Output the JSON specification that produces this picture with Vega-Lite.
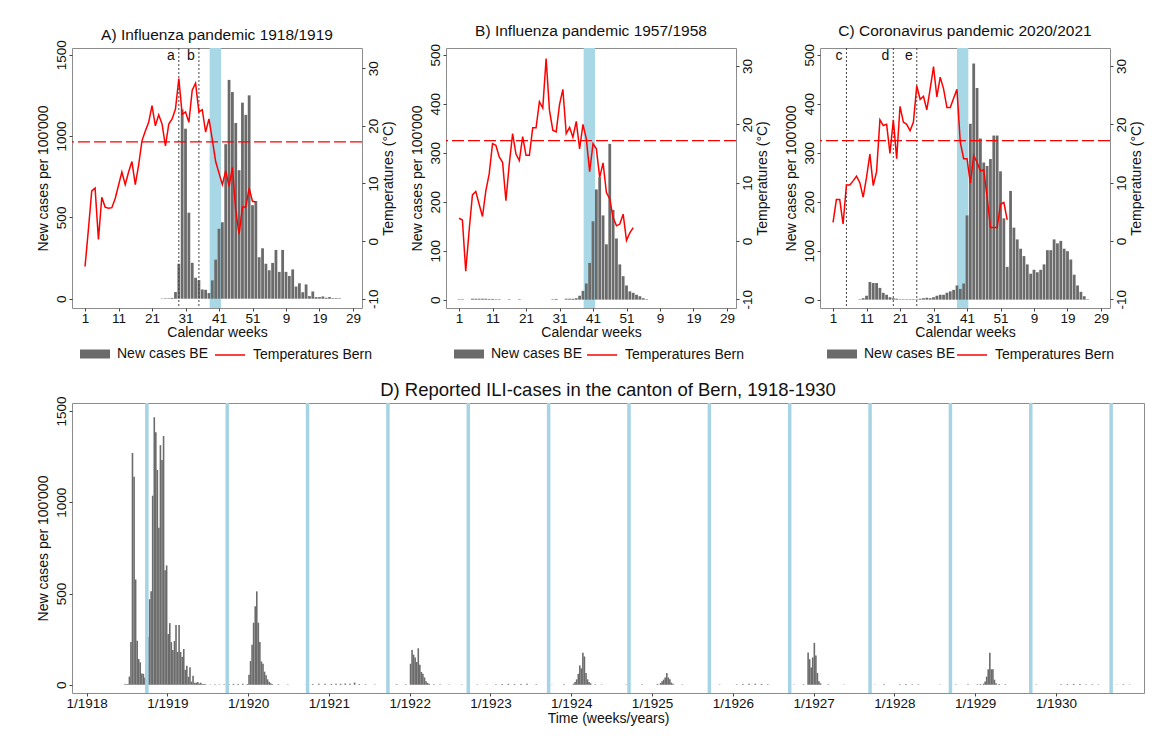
{
"$schema": "https://vega.github.io/schema/vega-lite/v6.json",
"background": "white",
"padding": {"left": 35, "top": 23, "right": 5, "bottom": 5},
"autosize": {"type": "pad"},
"config": {
  "font": "Liberation Sans",
  "view": {"stroke": "#8c8c8c", "strokeWidth": 1},
  "axis": {"labelFontSize": 13.5, "titleFontSize": 14, "labelColor": "#111", "titleColor": "#111", "tickColor": "#444", "tickSize": 3, "domain": false, "grid": false, "titleFontWeight": "normal", "labelPadding": 1, "titlePadding": 4, "labelOverlap": false},
  "axisX": {"labelOverlap": false, "titlePadding": 1, "labelPadding": 0},
  "axisQuantitative": {"labelOverlap": false},
  "title": {"fontSize": 15.5, "fontWeight": "normal", "offset": 0, "color": "#111"},
  "legend": {"labelFontSize": 14, "labelColor": "#111", "orient": "none", "direction": "horizontal", "title": null, "labelOffset": 7}
},
"datasets": {
  "A": [
    {"week":1,"temp":-4.4},{"week":2,"temp":2.0},{"week":3,"temp":8.7},{"week":4,"temp":9.2},{"week":5,"temp":0.3},{"week":6,"temp":7.6},{"week":7,"temp":5.9},{"week":8,"temp":5.7},{"week":9,"temp":5.8},{"week":10,"temp":7.4},
    {"week":11,"temp":9.7},{"week":12,"temp":12.0},{"week":13,"temp":9.8},{"week":14,"temp":12.0},{"week":15,"temp":13.8},{"week":16,"temp":9.8},{"week":17,"temp":13.2},{"week":18,"temp":17.4},{"week":19,"temp":19.1},{"week":20,"temp":20.6},
    {"week":21,"temp":23.5},{"week":22,"temp":20.0},{"week":23,"temp":21.9},{"week":24,"temp":20.3,"cases":2},{"week":25,"temp":16.5,"cases":3},{"week":26,"temp":20.3,"cases":3},{"week":27,"temp":21.2,"cases":5},{"week":28,"temp":22.9,"cases":41},{"week":29,"temp":28.2,"cases":215},{"week":30,"temp":22.0,"cases":1164},
    {"week":31,"temp":22.4,"cases":1045},{"week":32,"temp":20.6,"cases":529},{"week":33,"temp":26.2,"cases":221},{"week":34,"temp":27.4,"cases":129},{"week":35,"temp":22.4,"cases":113},{"week":36,"temp":22.8,"cases":57},{"week":37,"temp":18.9,"cases":55},{"week":38,"temp":21.2,"cases":35},{"week":39,"temp":17.6,"cases":113},{"week":40,"temp":13.8,"cases":240},
    {"week":41,"temp":11.8,"cases":430},{"week":42,"temp":9.8,"cases":470},{"week":43,"temp":12.2,"cases":950},{"week":44,"temp":9.5,"cases":1345},{"week":45,"temp":12.8,"cases":1270},{"week":46,"temp":5.3,"cases":1080},{"week":47,"temp":1.2,"cases":790},{"week":48,"temp":5.9,"cases":1205},{"week":49,"temp":5.9,"cases":1130},{"week":50,"temp":9.2,"cases":1250},
    {"week":51,"temp":6.9,"cases":575},{"week":52,"temp":6.8,"cases":600},{"week":53,"cases":255},{"week":54,"cases":310},{"week":55,"cases":215},{"week":56,"cases":175},{"week":57,"cases":220},{"week":58,"cases":300},{"week":59,"cases":165},{"week":60,"cases":300},
    {"week":61,"cases":165},{"week":62,"cases":140},{"week":63,"cases":180},{"week":64,"cases":75},{"week":65,"cases":95},{"week":66,"cases":40},{"week":67,"cases":88},{"week":68,"cases":16},{"week":69,"cases":45},{"week":70,"cases":10},
    {"week":71,"cases":10},{"week":72,"cases":14},{"week":73,"cases":6},{"week":74,"cases":10},{"week":75,"cases":4},{"week":76,"cases":4},{"week":77,"cases":3}
  ],
  "B": [
    {"week":1,"temp":3.9,"cases":1},{"week":2,"temp":3.6,"cases":1},{"week":3,"temp":-5.2},{"week":4,"temp":1.7},{"week":5,"temp":7.9,"cases":2},{"week":6,"temp":8.5,"cases":2},{"week":7,"temp":6.3,"cases":2},{"week":8,"temp":4.2,"cases":2},{"week":9,"temp":8.6,"cases":2},{"week":10,"temp":11.5,"cases":1.5},
    {"week":11,"temp":16.7,"cases":1.5},{"week":12,"temp":16.4,"cases":1},{"week":13,"temp":14.4,"cases":1},{"week":14,"temp":13.5},{"week":15,"temp":6.9},{"week":16,"temp":13.2,"cases":1},{"week":17,"temp":18.4},{"week":18,"temp":14.9},{"week":19,"temp":13.8,"cases":1},{"week":20,"temp":17.9},
    {"week":21,"temp":14.7},{"week":22,"temp":14.7},{"week":23,"temp":19.4},{"week":24,"temp":19.4},{"week":25,"temp":23.9},{"week":26,"temp":22.8},{"week":27,"temp":31.3},{"week":28,"temp":22.4},{"week":29,"temp":19.0,"cases":1},{"week":30,"temp":18.7,"cases":1.5},
    {"week":31,"temp":23.4},{"week":32,"temp":26.0},{"week":33,"temp":18.4,"cases":2},{"week":34,"temp":19.5,"cases":2},{"week":35,"temp":17.8,"cases":2},{"week":36,"temp":20.5,"cases":3},{"week":37,"temp":15.8,"cases":8},{"week":38,"temp":20.0,"cases":18},{"week":39,"temp":17.5,"cases":33},{"week":40,"temp":11.9,"cases":75},
    {"week":41,"temp":16.7,"cases":160},{"week":42,"temp":15.8,"cases":225},{"week":43,"temp":10.9,"cases":250},{"week":44,"temp":13.4,"cases":172},{"week":45,"temp":8.3,"cases":113},{"week":46,"temp":7.2,"cases":318},{"week":47,"temp":4.0,"cases":183},{"week":48,"temp":2.6,"cases":125},{"week":49,"temp":2.9,"cases":72},{"week":50,"temp":4.6,"cases":48},
    {"week":51,"temp":0.1,"cases":29},{"week":52,"temp":1.4,"cases":17},{"week":53,"temp":2.3,"cases":14},{"week":54,"cases":10},{"week":55,"cases":7},{"week":56,"cases":3},{"week":57,"cases":1}
  ],
  "C": [
    {"week":1,"temp":3.2},{"week":2,"temp":7.1},{"week":3,"temp":7.1},{"week":4,"temp":2.9},{"week":5,"temp":9.6},{"week":6,"temp":9.6},{"week":7,"temp":10.3},{"week":8,"temp":11.1},{"week":9,"temp":10.0,"cases":1},{"week":10,"temp":7.5,"cases":3},
    {"week":11,"temp":10.9,"cases":8},{"week":12,"temp":14.9,"cases":36},{"week":13,"temp":9.5,"cases":34},{"week":14,"temp":11.9,"cases":34},{"week":15,"temp":20.8,"cases":24},{"week":16,"temp":19.8,"cases":14},{"week":17,"temp":20.0,"cases":10},{"week":18,"temp":15.0,"cases":5},{"week":19,"temp":20.8,"cases":3},{"week":20,"temp":14.1,"cases":2},
    {"week":21,"temp":23.1,"cases":1},{"week":22,"temp":20.4,"cases":1},{"week":23,"temp":20.0,"cases":1},{"week":24,"temp":18.9,"cases":1},{"week":25,"temp":20.4,"cases":1},{"week":26,"temp":26.6,"cases":1},{"week":27,"temp":24.3,"cases":2},{"week":28,"temp":24.8,"cases":3},{"week":29,"temp":22.5,"cases":4},{"week":30,"temp":26.1,"cases":3},
    {"week":31,"temp":29.9,"cases":5},{"week":32,"temp":24.7,"cases":8},{"week":33,"temp":28.1,"cases":10},{"week":34,"temp":26.1,"cases":10},{"week":35,"temp":22.9,"cases":14},{"week":36,"temp":22.9,"cases":17},{"week":37,"temp":24.5,"cases":20},{"week":38,"temp":26.0,"cases":29},{"week":39,"temp":16.9,"cases":22},{"week":40,"temp":14.1,"cases":33},
    {"week":41,"temp":14.1,"cases":172},{"week":42,"temp":9.9,"cases":359},{"week":43,"temp":14.6,"cases":482},{"week":44,"temp":13.5,"cases":432},{"week":45,"temp":12.0,"cases":329},{"week":46,"temp":12.2,"cases":280},{"week":47,"temp":7.5,"cases":273},{"week":48,"temp":2.3,"cases":287},{"week":49,"temp":2.3,"cases":335},{"week":50,"temp":2.3,"cases":335},
    {"week":51,"temp":6.3,"cases":262},{"week":52,"temp":6.6,"cases":166},{"week":53,"temp":3.6,"cases":67},{"week":54,"cases":222},{"week":55,"cases":147},{"week":56,"cases":123},{"week":57,"cases":104},{"week":58,"cases":89},{"week":59,"cases":72},{"week":60,"cases":53},
    {"week":61,"cases":61},{"week":62,"cases":56},{"week":63,"cases":61},{"week":64,"cases":72},{"week":65,"cases":101},{"week":66,"cases":101},{"week":67,"cases":123},{"week":68,"cases":115},{"week":69,"cases":120},{"week":70,"cases":104},
    {"week":71,"cases":99},{"week":72,"cases":82},{"week":73,"cases":51},{"week":74,"cases":29},{"week":75,"cases":16},{"week":76,"cases":7},{"week":77,"cases":1}
  ],
  "D": [
    {"t":1918.471,"cases":3},{"t":1918.490,"cases":3},{"t":1918.510,"cases":4},{"t":1918.529,"cases":45},{"t":1918.548,"cases":234},{"t":1918.567,"cases":1270},{"t":1918.587,"cases":1140},{"t":1918.606,"cases":577},{"t":1918.625,"cases":241},{"t":1918.644,"cases":141},
    {"t":1918.663,"cases":123},{"t":1918.683,"cases":62},{"t":1918.702,"cases":60},{"t":1918.721,"cases":38},{"t":1918.740,"cases":123},{"t":1918.760,"cases":262},{"t":1918.779,"cases":469},{"t":1918.798,"cases":512},{"t":1918.817,"cases":1036},{"t":1918.837,"cases":1466},
    {"t":1918.856,"cases":1384},{"t":1918.875,"cases":1177},{"t":1918.894,"cases":861},{"t":1918.913,"cases":1313},{"t":1918.933,"cases":1232},{"t":1918.952,"cases":1363},{"t":1918.971,"cases":627},{"t":1918.990,"cases":654},
    {"t":1919.010,"cases":278},{"t":1919.029,"cases":338},{"t":1919.048,"cases":234},{"t":1919.067,"cases":191},{"t":1919.087,"cases":240},{"t":1919.106,"cases":327},{"t":1919.125,"cases":180},{"t":1919.144,"cases":327},{"t":1919.163,"cases":180},{"t":1919.183,"cases":153},
    {"t":1919.202,"cases":196},{"t":1919.221,"cases":82},{"t":1919.240,"cases":104},{"t":1919.260,"cases":44},{"t":1919.279,"cases":96},{"t":1919.298,"cases":17},{"t":1919.317,"cases":49},{"t":1919.337,"cases":11},{"t":1919.356,"cases":11},{"t":1919.375,"cases":15},
    {"t":1919.394,"cases":7},{"t":1919.413,"cases":11},{"t":1919.433,"cases":4},{"t":1919.452,"cases":4},{"t":1919.471,"cases":3},{"t":1919.529,"cases":2},{"t":1919.587,"cases":3},{"t":1919.644,"cases":2},{"t":1919.702,"cases":3},{"t":1919.760,"cases":4},
    {"t":1919.817,"cases":5},{"t":1919.875,"cases":4},{"t":1919.933,"cases":5},{"t":1919.990,"cases":4},
    {"t":1920.010,"cases":55},{"t":1920.029,"cases":130},{"t":1920.048,"cases":220},{"t":1920.067,"cases":340},{"t":1920.087,"cases":430},{"t":1920.106,"cases":512},{"t":1920.125,"cases":340},{"t":1920.144,"cases":235},{"t":1920.163,"cases":128},{"t":1920.183,"cases":115},
    {"t":1920.202,"cases":72},{"t":1920.221,"cases":52},{"t":1920.240,"cases":30},{"t":1920.260,"cases":16},{"t":1920.279,"cases":8},{"t":1920.298,"cases":4},{"t":1920.375,"cases":3},{"t":1920.490,"cases":2},{"t":1920.721,"cases":3},{"t":1920.798,"cases":4},
    {"t":1920.875,"cases":5},{"t":1920.952,"cases":6},
    {"t":1921.029,"cases":5},{"t":1921.087,"cases":6},{"t":1921.144,"cases":6},{"t":1921.202,"cases":7},{"t":1921.260,"cases":6},{"t":1921.317,"cases":12},{"t":1921.375,"cases":4},{"t":1921.452,"cases":3},{"t":1921.567,"cases":2},{"t":1921.721,"cases":2},
    {"t":1921.837,"cases":3},{"t":1921.952,"cases":3},
    {"t":1922.010,"cases":115},{"t":1922.029,"cases":190},{"t":1922.048,"cases":165},{"t":1922.067,"cases":150},{"t":1922.087,"cases":125},{"t":1922.106,"cases":200},{"t":1922.125,"cases":110},{"t":1922.144,"cases":70},{"t":1922.163,"cases":60},{"t":1922.183,"cases":40},
    {"t":1922.202,"cases":20},{"t":1922.221,"cases":10},{"t":1922.240,"cases":5},{"t":1922.298,"cases":3},{"t":1922.375,"cases":3},{"t":1922.490,"cases":2},{"t":1922.644,"cases":2},{"t":1922.837,"cases":2},{"t":1922.952,"cases":2},
    {"t":1923.067,"cases":3},{"t":1923.144,"cases":4},{"t":1923.221,"cases":5},{"t":1923.298,"cases":4},{"t":1923.375,"cases":4},{"t":1923.452,"cases":5},{"t":1923.567,"cases":3},{"t":1923.760,"cases":2},{"t":1923.913,"cases":3},
    {"t":1924.029,"cases":6},{"t":1924.048,"cases":15},{"t":1924.067,"cases":30},{"t":1924.087,"cases":60},{"t":1924.106,"cases":105},{"t":1924.125,"cases":90},{"t":1924.144,"cases":175},{"t":1924.163,"cases":155},{"t":1924.183,"cases":65},{"t":1924.202,"cases":30},
    {"t":1924.221,"cases":15},{"t":1924.240,"cases":8},{"t":1924.298,"cases":3},{"t":1924.375,"cases":2},{"t":1924.683,"cases":2},{"t":1924.875,"cases":3},
    {"t":1925.067,"cases":5},{"t":1925.106,"cases":10},{"t":1925.125,"cases":20},{"t":1925.144,"cases":28},{"t":1925.163,"cases":40},{"t":1925.183,"cases":64},{"t":1925.202,"cases":40},{"t":1925.221,"cases":30},{"t":1925.240,"cases":12},{"t":1925.260,"cases":6},
    {"t":1925.375,"cases":2},{"t":1925.837,"cases":2},
    {"t":1926.048,"cases":3},{"t":1926.125,"cases":4},{"t":1926.202,"cases":5},{"t":1926.279,"cases":6},{"t":1926.356,"cases":5},{"t":1926.433,"cases":3},{"t":1926.760,"cases":2},{"t":1926.875,"cases":3},{"t":1926.933,"cases":177},{"t":1926.952,"cases":140},
    {"t":1926.971,"cases":95},{"t":1926.990,"cases":150},
    {"t":1927.010,"cases":230},{"t":1927.029,"cases":160},{"t":1927.048,"cases":65},{"t":1927.067,"cases":20},{"t":1927.087,"cases":8},{"t":1927.183,"cases":3},{"t":1927.375,"cases":2},{"t":1927.760,"cases":2},{"t":1927.875,"cases":3},
    {"t":1928.067,"cases":3},{"t":1928.144,"cases":4},{"t":1928.221,"cases":3},{"t":1928.298,"cases":3},{"t":1928.567,"cases":2},{"t":1928.760,"cases":2},{"t":1928.913,"cases":3},
    {"t":1929.029,"cases":3},{"t":1929.067,"cases":4},{"t":1929.106,"cases":6},{"t":1929.125,"cases":18},{"t":1929.144,"cases":45},{"t":1929.163,"cases":85},{"t":1929.183,"cases":175},{"t":1929.202,"cases":85},{"t":1929.221,"cases":85},{"t":1929.240,"cases":28},
    {"t":1929.260,"cases":9},{"t":1929.298,"cases":4},{"t":1929.375,"cases":3},{"t":1929.760,"cases":2},
    {"t":1930.067,"cases":3},{"t":1930.144,"cases":4},{"t":1930.221,"cases":5},{"t":1930.298,"cases":4},{"t":1930.375,"cases":3},{"t":1930.452,"cases":3},{"t":1930.529,"cases":2},{"t":1930.760,"cases":2},{"t":1930.837,"cases":3},{"t":1930.913,"cases":2}
  ],
  "seasons": [
    {"t":1918.745},{"t":1919.740},{"t":1920.735},{"t":1921.730},{"t":1922.725},{"t":1923.720},{"t":1924.715},{"t":1925.710},{"t":1926.705},{"t":1927.700},{"t":1928.695},{"t":1929.690},{"t":1930.685}
  ]
},
"spacing": 17,
"resolve": {"scale": {"fill": "independent", "stroke": "independent"}, "legend": {"fill": "independent", "stroke": "independent"}},
"vconcat": [
 {
  "bounds": "flush",
  "spacing": 84,
  "resolve": {"scale": {"fill": "independent", "stroke": "independent"}, "legend": {"fill": "independent", "stroke": "independent"}},
  "hconcat": [
   {
    "title": {"text": "A) Influenza pandemic 1918/1919", "offset": -4},
    "width": 290, "height": 260,
    "data": {"name": "A"},
    "resolve": {"scale": {"y": "independent"}},
    "layer": [
     {"data": {"values": [{}]}, "mark": {"type": "rect", "color": "#a8d8e6"},
      "encoding": {"x": {"datum": 38.2, "type": "quantitative", "scale": {"domain": [-1.4, 82.2], "nice": false, "zero": false},
        "axis": {"values": [1,11,21,31,41,51,61,71,81], "labelExpr": "datum.value > 52 ? datum.value - 52 : datum.value", "title": "Calendar weeks", "labelFlush": false, "labelOverlap": false}},
       "x2": {"datum": 41.6}}},
     {"layer": [
       {"mark": {"type": "bar", "size": 2.8, "color": "#6b6b6b"},
        "encoding": {"x": {"field": "week", "type": "quantitative", "axis": {"values": [1,11,21,31,41,51,61,71,81], "labelExpr": "datum.value > 52 ? datum.value - 52 : datum.value", "title": "Calendar weeks", "labelFlush": false, "labelOverlap": false}},
         "y": {"field": "cases", "type": "quantitative", "scale": {"domain": [-57, 1541], "nice": false, "zero": false},
           "axis": {"orient": "left", "values": [0,500,1000,1500], "format": "d", "labelAngle": -90, "labelOverlap": false, "title": "New cases per 100'000"}},
         "y2": {"datum": 0},
         "fill": {"datum": "New cases BE", "type": "nominal", "scale": {"range": ["#6b6b6b"]},
           "legend": {"symbolType": "M-1,-0.3H1V0.3H-1Z", "symbolSize": 900, "symbolStrokeWidth": 0, "legendX": 8, "legendY": 291}}}},
       {"data": {"values": [{"w":29,"l":"a"},{"w":35,"l":"b"}]}, "mark": {"type": "rule", "strokeDash": [2,2], "color": "#444", "strokeWidth": 1},
        "encoding": {"x": {"field": "w", "type": "quantitative", "axis": {"values": [1,11,21,31,41,51,61,71,81], "labelExpr": "datum.value > 52 ? datum.value - 52 : datum.value", "title": "Calendar weeks", "labelFlush": false, "labelOverlap": false}}}},
       {"data": {"values": [{"w":29,"l":"a"},{"w":35,"l":"b"}]}, "mark": {"type": "text", "align": "right", "dx": -4, "fontSize": 14, "color": "#111"},
        "encoding": {"x": {"field": "w", "type": "quantitative", "axis": {"values": [1,11,21,31,41,51,61,71,81], "labelExpr": "datum.value > 52 ? datum.value - 52 : datum.value", "title": "Calendar weeks", "labelFlush": false, "labelOverlap": false}}, "y": {"datum": 1490}, "text": {"field": "l"}}}
     ]},
     {"layer": [
       {"mark": {"type": "line", "color": "#ff0000", "strokeWidth": 1.5},
        "encoding": {"x": {"field": "week", "type": "quantitative", "axis": {"values": [1,11,21,31,41,51,61,71,81], "labelExpr": "datum.value > 52 ? datum.value - 52 : datum.value", "title": "Calendar weeks", "labelFlush": false, "labelOverlap": false}},
         "y": {"field": "temp", "type": "quantitative", "scale": {"domain": [-11.6, 33.5], "nice": false, "zero": false},
           "axis": {"orient": "right", "values": [-10,0,10,20,30], "labelExpr": "'' + datum.value", "labelAngle": -90, "labelAlign": "center", "labelBaseline": "top", "labelOverlap": false, "title": "Temperatures (°C)", "titleAngle": -90, "titleBaseline": "top", "titlePadding": 2}},
         "stroke": {"datum": "Temperatures Bern", "type": "nominal", "scale": {"range": ["#ff0000"]},
           "legend": {"symbolType": "stroke", "symbolSize": 900, "symbolStrokeWidth": 1.5, "legendX": 142, "legendY": 291}}}},
       {"data": {"values": [{}]}, "mark": {"type": "rule", "color": "#ff0000", "strokeDash": [12,4], "strokeWidth": 1.3},
        "encoding": {"y": {"datum": 17.2}}}
     ]}
    ]
   },
   {
    "title": "B) Influenza pandemic 1957/1958",
    "width": 290, "height": 260,
    "data": {"name": "B"},
    "resolve": {"scale": {"y": "independent"}},
    "layer": [
     {"data": {"values": [{}]}, "mark": {"type": "rect", "color": "#a8d8e6"},
      "encoding": {"x": {"datum": 38.2, "type": "quantitative", "scale": {"domain": [-1.4, 82.2], "nice": false, "zero": false},
        "axis": {"values": [1,11,21,31,41,51,61,71,81], "labelExpr": "datum.value > 52 ? datum.value - 52 : datum.value", "title": "Calendar weeks", "labelFlush": false, "labelOverlap": false}},
       "x2": {"datum": 41.6}}},
     {"layer": [
       {"mark": {"type": "bar", "size": 2.8, "color": "#6b6b6b"},
        "encoding": {"x": {"field": "week", "type": "quantitative", "axis": {"values": [1,11,21,31,41,51,61,71,81], "labelExpr": "datum.value > 52 ? datum.value - 52 : datum.value", "title": "Calendar weeks", "labelFlush": false, "labelOverlap": false}},
         "y": {"field": "cases", "type": "quantitative", "scale": {"domain": [-17, 513.7], "nice": false, "zero": false},
           "axis": {"orient": "left", "values": [0,100,200,300,400,500], "format": "d", "labelAngle": -90, "labelOverlap": false, "title": "New cases per 100'000"}},
         "y2": {"datum": 0},
         "fill": {"datum": "New cases BE", "type": "nominal", "scale": {"range": ["#6b6b6b"]},
           "legend": {"symbolType": "M-1,-0.3H1V0.3H-1Z", "symbolSize": 900, "symbolStrokeWidth": 0, "legendX": 8, "legendY": 291}}}}
     ]},
     {"layer": [
       {"mark": {"type": "line", "color": "#ff0000", "strokeWidth": 1.5},
        "encoding": {"x": {"field": "week", "type": "quantitative", "axis": {"values": [1,11,21,31,41,51,61,71,81], "labelExpr": "datum.value > 52 ? datum.value - 52 : datum.value", "title": "Calendar weeks", "labelFlush": false, "labelOverlap": false}},
         "y": {"field": "temp", "type": "quantitative", "scale": {"domain": [-11.5, 33.1], "nice": false, "zero": false},
           "axis": {"orient": "right", "values": [-10,0,10,20,30], "labelExpr": "'' + datum.value", "labelAngle": -90, "labelAlign": "center", "labelBaseline": "top", "labelOverlap": false, "title": "Temperatures (°C)", "titleAngle": -90, "titleBaseline": "top", "titlePadding": 2}},
         "stroke": {"datum": "Temperatures Bern", "type": "nominal", "scale": {"range": ["#ff0000"]},
           "legend": {"symbolType": "stroke", "symbolSize": 900, "symbolStrokeWidth": 1.5, "legendX": 140, "legendY": 291}}}},
       {"data": {"values": [{}]}, "mark": {"type": "rule", "color": "#ff0000", "strokeDash": [12,4], "strokeWidth": 1.3},
        "encoding": {"y": {"datum": 17.2}}}
     ]}
    ]
   },
   {
    "title": "C) Coronavirus pandemic 2020/2021",
    "width": 290, "height": 260,
    "data": {"name": "C"},
    "resolve": {"scale": {"y": "independent"}},
    "layer": [
     {"data": {"values": [{}]}, "mark": {"type": "rect", "color": "#a8d8e6"},
      "encoding": {"x": {"datum": 38.0, "type": "quantitative", "scale": {"domain": [-1.4, 82.2], "nice": false, "zero": false},
        "axis": {"values": [1,11,21,31,41,51,61,71,81], "labelExpr": "datum.value > 52 ? datum.value - 52 : datum.value", "title": "Calendar weeks", "labelFlush": false, "labelOverlap": false}},
       "x2": {"datum": 41.4}}},
     {"layer": [
       {"mark": {"type": "bar", "size": 2.8, "color": "#6b6b6b"},
        "encoding": {"x": {"field": "week", "type": "quantitative", "axis": {"values": [1,11,21,31,41,51,61,71,81], "labelExpr": "datum.value > 52 ? datum.value - 52 : datum.value", "title": "Calendar weeks", "labelFlush": false, "labelOverlap": false}},
         "y": {"field": "cases", "type": "quantitative", "scale": {"domain": [-17, 513.7], "nice": false, "zero": false},
           "axis": {"orient": "left", "values": [0,100,200,300,400,500], "format": "d", "labelAngle": -90, "labelOverlap": false, "title": "New cases per 100'000"}},
         "y2": {"datum": 0},
         "fill": {"datum": "New cases BE", "type": "nominal", "scale": {"range": ["#6b6b6b"]},
           "legend": {"symbolType": "M-1,-0.3H1V0.3H-1Z", "symbolSize": 900, "symbolStrokeWidth": 0, "legendX": 7, "legendY": 291}}}},
       {"data": {"values": [{"w":5,"l":"c"},{"w":19,"l":"d"},{"w":26,"l":"e"}]}, "mark": {"type": "rule", "strokeDash": [2,2], "color": "#444", "strokeWidth": 1},
        "encoding": {"x": {"field": "w", "type": "quantitative", "axis": {"values": [1,11,21,31,41,51,61,71,81], "labelExpr": "datum.value > 52 ? datum.value - 52 : datum.value", "title": "Calendar weeks", "labelFlush": false, "labelOverlap": false}}}},
       {"data": {"values": [{"w":5,"l":"c"},{"w":19,"l":"d"},{"w":26,"l":"e"}]}, "mark": {"type": "text", "align": "right", "dx": -4, "fontSize": 14, "color": "#111"},
        "encoding": {"x": {"field": "w", "type": "quantitative", "axis": {"values": [1,11,21,31,41,51,61,71,81], "labelExpr": "datum.value > 52 ? datum.value - 52 : datum.value", "title": "Calendar weeks", "labelFlush": false, "labelOverlap": false}}, "y": {"datum": 497}, "text": {"field": "l"}}}
     ]},
     {"layer": [
       {"mark": {"type": "line", "color": "#ff0000", "strokeWidth": 1.5},
        "encoding": {"x": {"field": "week", "type": "quantitative", "axis": {"values": [1,11,21,31,41,51,61,71,81], "labelExpr": "datum.value > 52 ? datum.value - 52 : datum.value", "title": "Calendar weeks", "labelFlush": false, "labelOverlap": false}},
         "y": {"field": "temp", "type": "quantitative", "scale": {"domain": [-11.5, 33.1], "nice": false, "zero": false},
           "axis": {"orient": "right", "values": [-10,0,10,20,30], "labelExpr": "'' + datum.value", "labelAngle": -90, "labelAlign": "center", "labelBaseline": "top", "labelOverlap": false, "title": "Temperatures (°C)", "titleAngle": -90, "titleBaseline": "top", "titlePadding": 2}},
         "stroke": {"datum": "Temperatures Bern", "type": "nominal", "scale": {"range": ["#ff0000"]},
           "legend": {"symbolType": "stroke", "symbolSize": 900, "symbolStrokeWidth": 1.5, "legendX": 136, "legendY": 291}}}},
       {"data": {"values": [{}]}, "mark": {"type": "rule", "color": "#ff0000", "strokeDash": [12,4], "strokeWidth": 1.3},
        "encoding": {"y": {"datum": 17.2}}}
     ]}
    ]
   }
  ]
 },
 {
  "title": {"text": "D) Reported ILI-cases in the canton of Bern, 1918-1930", "fontSize": 18.5, "offset": -3},
  "width": 1072, "height": 290,
  "layer": [
   {"data": {"name": "D"}, "mark": {"type": "bar", "size": 1.6, "color": "#6b6b6b"},
    "encoding": {
     "x": {"field": "t", "type": "quantitative", "scale": {"domain": [1917.88, 1931.03], "nice": false, "zero": false},
       "axis": {"values": [1918,1919,1920,1921,1922,1923,1924,1925,1926,1927,1928,1929,1930], "labelExpr": "'1/' + datum.value", "title": "Time (weeks/years)", "labelFlush": false, "labelOverlap": false, "titlePadding": 2}},
     "y": {"field": "cases", "type": "quantitative", "scale": {"domain": [-45, 1544], "nice": false, "zero": false},
       "axis": {"values": [0,500,1000,1500], "format": "d", "labelAngle": -90, "labelOverlap": false, "title": "New cases per 100'000"}},
     "y2": {"datum": 0}}},
   {"data": {"name": "seasons"}, "mark": {"type": "rule", "color": "#a6d4e4", "strokeWidth": 3.5},
    "encoding": {"x": {"field": "t", "type": "quantitative"}}}
  ]
 }
]
}
